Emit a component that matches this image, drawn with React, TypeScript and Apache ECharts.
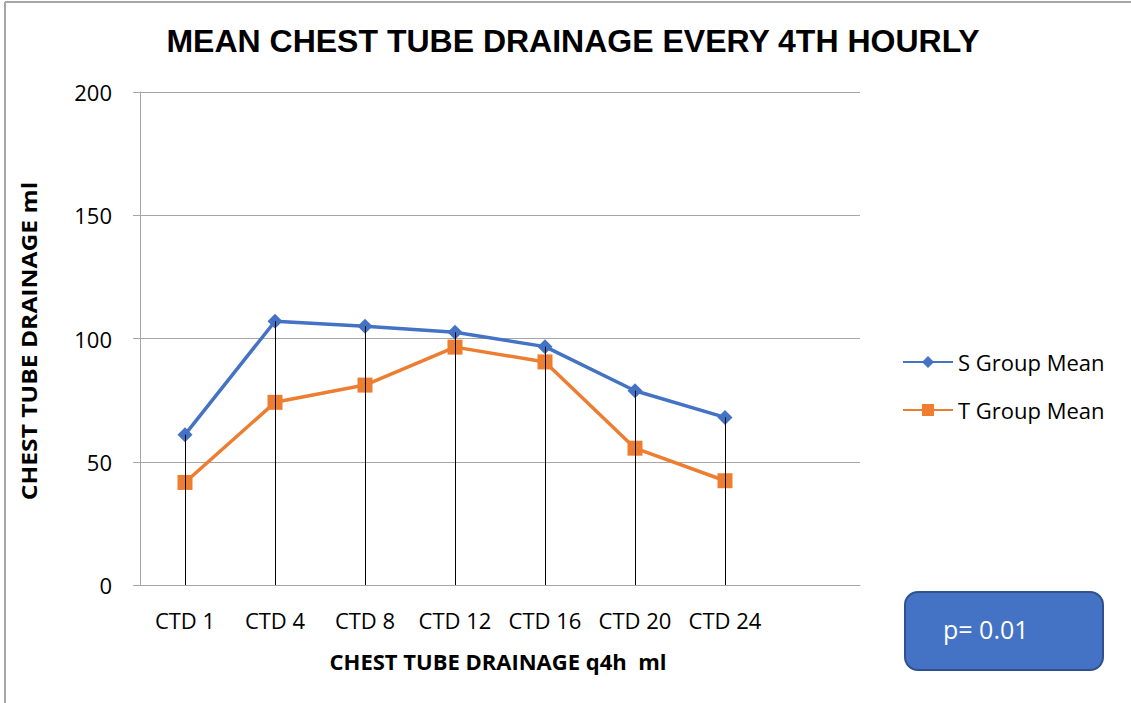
import React, { useEffect, useRef } from "react";
import * as echarts from "echarts";

const categories = ["CTD 1", "CTD 4", "CTD 8", "CTD 12", "CTD 16", "CTD 20", "CTD 24", ""];
const sGroup = [61, 107, 105, 102.5, 96.7, 78.8, 68];
const tGroup = [41.6, 74.1, 81.1, 96.5, 90.5, 55.5, 42.3];
const yTicks = { min: 0, max: 200, interval: 50 };
const titleText = "MEAN CHEST TUBE DRAINAGE EVERY 4TH HOURLY";
const yName = "CHEST TUBE DRAINAGE ml";
const xName = "CHEST TUBE DRAINAGE q4h  ml";
const pText = "p= 0.01";

const FONT = "'Open Sans', 'Noto Sans', sans-serif";

export default function App() {
  const ref = useRef<HTMLDivElement>(null);
  useEffect(() => {
    if (!ref.current) return;
    const chart = echarts.init(ref.current, null, { renderer: "svg" });
    const drops = sGroup.map((s, i) => [
      { coord: [categories[i], Math.max(s, tGroup[i])] },
      { coord: [categories[i], 0] },
    ]);
    chart.setOption({
      animation: false,
      backgroundColor: "#ffffff",
      textStyle: { fontFamily: FONT },
      title: {
        text: titleText,
        left: 568,
        top: 20,
        textAlign: "center",
        textStyle: {
          fontFamily: "'Liberation Sans', Arial, sans-serif",
          fontWeight: "bold",
          fontSize: 32,
          color: "#000",
        },
      },
      grid: { left: 140, right: 271, top: 92, bottom: 118, containLabel: false },
      legend: {
        data: ["S Group Mean", "T Group Mean"],
        orient: "vertical",
        left: 902,
        top: 351,
        padding: 0,
        itemWidth: 50,
        itemHeight: 15,
        itemGap: 26,
        textStyle: { fontFamily: FONT, fontSize: 22, color: "#000" },
      },
      xAxis: {
        type: "category",
        data: categories,
        boundaryGap: true,
        axisLine: { show: true, lineStyle: { color: "#A6A6A6", width: 1 } },
        axisTick: { show: false },
        axisLabel: { margin: 24, fontSize: 22, color: "#000", fontFamily: FONT, interval: 0 },
        splitLine: { show: false },
      },
      yAxis: {
        type: "value",
        min: yTicks.min,
        max: yTicks.max,
        interval: yTicks.interval,
        axisLine: { show: true, lineStyle: { color: "#A6A6A6", width: 1 } },
        axisTick: { show: true, length: 7, lineStyle: { color: "#A6A6A6" } },
        axisLabel: { margin: 28, fontSize: 22, color: "#000", fontFamily: FONT },
        splitLine: { show: true, lineStyle: { color: "#A6A6A6", width: 1 } },
      },
      series: [
        {
          name: "S Group Mean",
          type: "line",
          data: sGroup,
          color: "#4472C4",
          symbol: "diamond",
          symbolSize: 15,
          lineStyle: { width: 3.5, color: "#4472C4" },
          itemStyle: { color: "#4472C4" },
          z: 2,
        },
        {
          name: "T Group Mean",
          type: "line",
          data: tGroup,
          color: "#ED7D31",
          symbol: "rect",
          symbolSize: 15,
          lineStyle: { width: 3.5, color: "#ED7D31" },
          itemStyle: { color: "#ED7D31" },
          z: 3,
        },
        {
          name: "drop",
          type: "line",
          data: categories.map(() => null),
          showSymbol: false,
          silent: true,
          z: 5,
          markLine: {
            silent: true,
            symbol: ["none", "none"],
            label: { show: false },
            lineStyle: { color: "#000", width: 1, type: "solid" },
            data: drops,
          },
        },
      ],
      graphic: [
        {
          type: "line",
          shape: { x1: 5, y1: 2, x2: 1131, y2: 2 },
          style: { stroke: "#A6A6A6", lineWidth: 2 },
        },
        {
          type: "line",
          shape: { x1: 5, y1: 2, x2: 5, y2: 703 },
          style: { stroke: "#A6A6A6", lineWidth: 2 },
        },
        {
          type: "text",
          x: 29,
          y: 341,
          rotation: Math.PI / 2,
          scaleX: 1.12,
          style: {
            text: yName,
            fontFamily: FONT,
            fontWeight: "bold",
            fontSize: 22,
            fill: "#000",
            align: "center",
            verticalAlign: "middle",
          },
        },
        {
          type: "text",
          x: 498,
          y: 661,
          style: {
            text: xName,
            fontFamily: FONT,
            fontWeight: "bold",
            fontSize: 22,
            fill: "#000",
            align: "center",
            verticalAlign: "middle",
          },
        },
        {
          type: "rect",
          shape: { x: 905, y: 592, width: 198, height: 78, r: 13 },
          style: { fill: "#4472C4", stroke: "#2F528F", lineWidth: 2 },
        },
        {
          type: "text",
          x: 943,
          y: 629,
          style: {
            text: pText,
            fontFamily: FONT,
            fontSize: 25,
            fill: "#fff",
            align: "left",
            verticalAlign: "middle",
          },
        },
      ],
    });
    return () => chart.dispose();
  }, []);
  return (
    <div
      ref={ref}
      style={{ position: "fixed", left: 0, top: 0, width: 1131, height: 703 }}
    />
  );
}
